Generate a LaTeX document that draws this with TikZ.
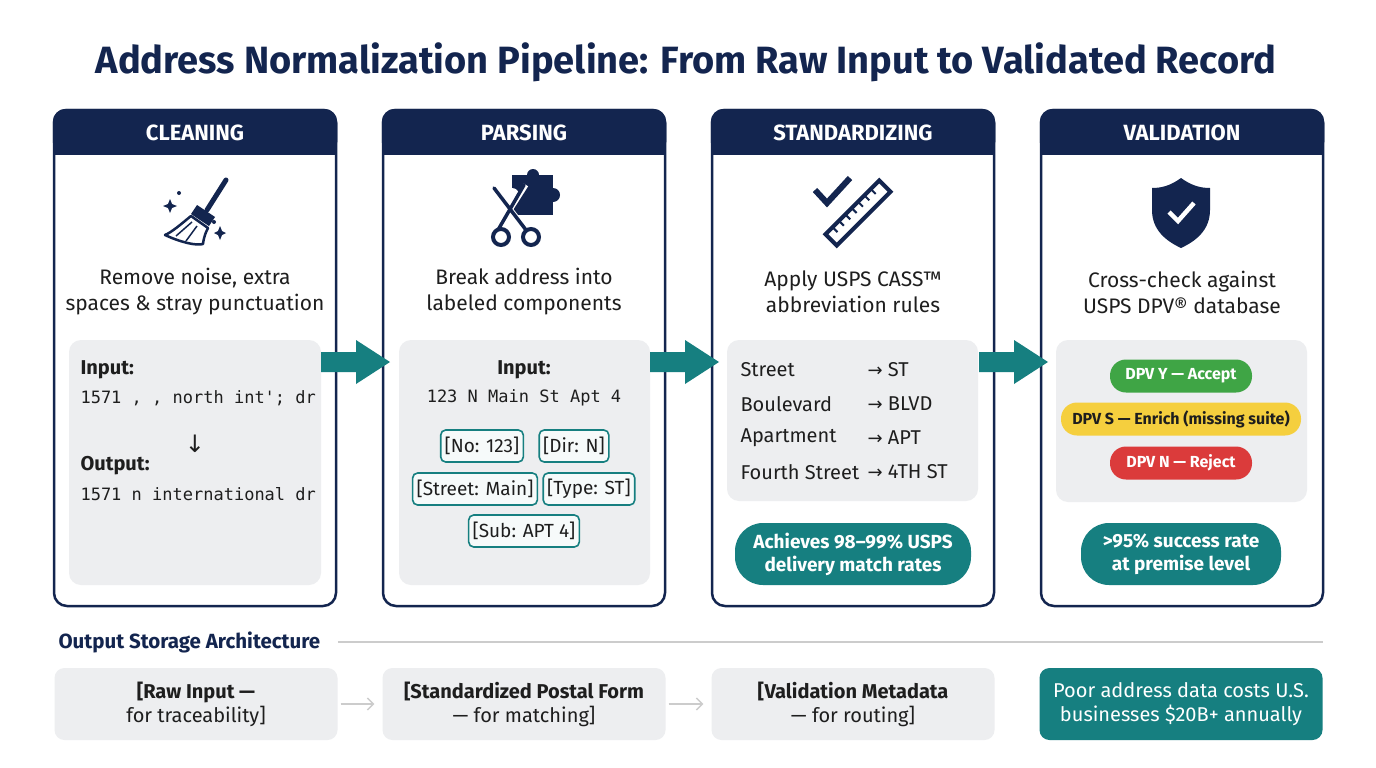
\documentclass[tikz,border=0pt]{standalone}
\usepackage{fontspec}
\setmainfont{Fira Sans}
\newfontfamily\monof{DejaVu Sans Mono}
\newfontfamily\symf{DejaVu Sans}
\usetikzlibrary{shapes.geometric,arrows.meta}
\definecolor{navy}{HTML}{13254F}
\definecolor{teal}{HTML}{167F80}
\definecolor{greyb}{HTML}{EDEEF0}
\definecolor{txt}{HTML}{1E1E1E}
\definecolor{okg}{HTML}{3FA545}
\definecolor{oky}{HTML}{F5CF3E}
\definecolor{okr}{HTML}{DB3B3B}
\tikzset{
 panel/.style={draw=navy,line width=2.5pt,rounded corners=13pt,fill=white},
 hdr/.style={text=white,font=\fontsize{22}{24}\selectfont\bfseries},
 desc/.style={text=txt,font=\fontsize{21}{26}\selectfont,align=center},
 gbox/.style={fill=greyb,rounded corners=12pt},
 mono/.style={text=txt,font=\monof\fontsize{17}{20}\selectfont},
 lbl/.style={text=txt,font=\fontsize{20}{22}\selectfont\bfseries},
 tag/.style={draw=teal,line width=1.6pt,rounded corners=5pt,fill=white!96!teal,text=txt,font=\fontsize{19}{20}\selectfont,minimum height=32pt,inner xsep=4pt},
 row/.style={text=txt,font=\fontsize{20}{22}\selectfont,anchor=west},
 tpill/.style={fill=teal,rounded corners=28pt,text=white,font=\fontsize{19}{23}\selectfont\bfseries,align=center,minimum height=62pt},
 spill/.style={rounded corners=16pt,font=\fontsize{16}{18}\selectfont\bfseries,minimum height=33pt},
 flow/.style={fill=teal},
 sbox/.style={fill=greyb,rounded corners=10pt,minimum width=283pt,minimum height=72pt,align=center,text=txt,font=\fontsize{20}{24}\selectfont},
 garrow/.style={draw=black!20,line width=1.3pt,-{Straight Barb[length=6pt,width=12pt]}},
}
\begin{document}
\begin{tikzpicture}[x=1pt,y=-1pt]
\useasboundingbox (0,0) rectangle (1376,768);
\fill[white] (0,0) rectangle (1376,768);
\node[text=navy,font=\fontsize{38}{40}\selectfont\bfseries] (title) at (686,62) {Address Normalization Pipeline: From Raw Input to Validated Record};

% panels
\foreach \x/\n/\h in {54/p1/CLEANING,383/p2/PARSING,712/p3/STANDARDIZING,1041/p4/VALIDATION}{
  \draw[panel] (\x,110) rectangle ++(282,496);
  \fill[navy,rounded corners=13pt] (\x-1.25,108.75) rectangle ++(284.5,46);
  \fill[navy] (\x-1.25,140) rectangle ++(284.5,15);
  \node[hdr] (\n h) at (\x+141,133) {\h};
}
% descriptions
\node[desc] (d1) at (195,292) {Remove noise, extra\\spaces \& stray punctuation};
\node[desc] (d2) at (524,292) {Break address into\\labeled components};
\node[desc] (d3) at (853,292) {Apply USPS CASS™\\abbreviation rules};
\node[desc] (d4) at (1182,292) {Cross-check against\\USPS DPV® database};

% grey boxes
\fill[gbox] (69,340) rectangle (321,585);
\fill[gbox] (399,340) rectangle (650,585);
\fill[gbox] (727,340) rectangle (978,501);
\fill[gbox] (1056,340) rectangle (1307,502);

% flow arrows
\foreach \a in {321,650,979}{
  \fill[flow] (\a,352) -- (\a+35,352) -- (\a+35,340) -- (\a+69,362) -- (\a+35,384) -- (\a+35,372) -- (\a,372) -- cycle;
}

% panel 1
\node[lbl,anchor=west] (in1) at (77,370) {Input:};
\node[mono,anchor=west] (in1v) at (77,398) {1571 , , north int'; dr};
\node[text=txt,font=\symf\fontsize{24}{24}\selectfont] (dn) at (195,444) {↓};
\node[lbl,anchor=west] (out1) at (77,466) {Output:};
\node[mono,anchor=west] (out1v) at (77,494) {1571 n international dr};

% panel 2
\node[lbl] (in2) at (524,370) {Input:};
\node[mono] (in2v) at (524,398) {123 N Main St Apt 4};
\node[tag] (t1) at (482,446) {[No: 123]};
\node[tag] (t2) at (574,446) {[Dir: N]};
\node[tag] (t3) at (475,489) {[Street: Main]};
\node[tag] (t4) at (589,489) {[Type: ST]};
\node[tag] (t5) at (524,531) {[Sub: APT 4]};

% panel 3
\foreach \y/\a/\b [count=\i] in {370/Street/ST,404/Boulevard/BLVD,438/Apartment/APT,472/Fourth Street/4TH ST}{
  \node[row] (r\i a) at (737,\y) {\a};
  \node[row] (r\i b) at (864,\y) {{\symf\fontsize{18}{20}\selectfont →} \b};
}
\node[tpill,minimum width=236pt] (s3) at (853,554) {Achieves 98–99\% USPS\\delivery match rates};

% panel 4
\node[spill,fill=okg,text=white,minimum width=142pt] (gy) at (1181,376) {DPV Y — Accept};
\node[spill,fill=oky,text=txt,minimum width=240pt] (gs) at (1181,419) {DPV S — Enrich (missing suite)};
\node[spill,fill=okr,text=white,minimum width=142pt] (gn) at (1181,463) {DPV N — Reject};
\node[tpill,minimum width=200pt] (s4) at (1181,554) {>95\% success rate\\at premise level};

% icons
% broom
\draw[navy,line width=5pt,line cap=round] (226,180) -- (207,210);
\fill[navy] (197,205) -- (215,217) -- (209,226) -- (191,214) -- cycle;
\draw[navy,line width=2.5pt,line join=round,fill=white] (191,216) .. controls (180,225) and (172,232) .. (165,235) .. controls (180,242) and (196,246) .. (203,244) .. controls (204,236) and (206,232) .. (208,228) -- cycle;
\draw[navy,line width=1.5pt] (176,236) -- (192,222) (186,241) -- (197,226);
\fill[navy] (170,199) -- (172,204) -- (177,206) -- (172,208) -- (170,213) -- (168,208) -- (163,206) -- (168,204) -- cycle;
\fill[navy] (220,226) -- (222,231) -- (226,233) -- (222,235) -- (220,240) -- (218,235) -- (214,233) -- (218,231) -- cycle;
\fill[navy] (179,193) circle (2pt) (214,222) circle (2pt);
% scissors + puzzle
\fill[navy] (512,175) rectangle (553,215);
\fill[navy] (553,195) circle (7pt);
\fill[navy] (533,175) circle (6pt);
\fill[white] (512,195) circle (7pt);
\draw[white,line width=5pt] (494,188) -- (528,232) (526,185) -- (496,232);
\draw[navy,line width=3.5pt,line cap=round] (494,188) -- (526,230) (524,185) -- (498,230);
\draw[navy,line width=4pt,fill=white] (501,237) circle (8pt) (531,237) circle (8pt);
% check + ruler
\begin{scope}[shift={(858,213)},rotate=45]
\draw[navy,line width=4pt,fill=white] (-38,-8) rectangle (38,8);
\foreach \t in {-28,-19,...,30}{\draw[navy,line width=2pt] (\t,-8) -- (\t,-1);}
\end{scope}
\draw[navy,line width=6pt] (815,190) -- (827,203) -- (850,178);
% shield
\fill[navy] (1181,178) .. controls (1192,186) and (1201,188) .. (1210,188) -- (1210,210) .. controls (1210,230) and (1196,241) .. (1181,248) .. controls (1166,241) and (1152,230) .. (1152,210) -- (1152,188) .. controls (1161,188) and (1170,186) .. (1181,178) -- cycle;
\draw[white,line width=4.5pt] (1169,212) -- (1178,221) -- (1194,203);

% bottom
\node[text=navy,font=\fontsize{20.5}{22}\selectfont\bfseries,anchor=west] (ost) at (55,642) {Output Storage Architecture};
\coordinate (le) at (1323,642);
\draw[black!20,line width=1.2pt] (ost.east) ++(14,0) -- (le);
\node[sbox] (b1) at (196,704) {\textbf{[Raw Input —}\\for traceability]};
\node[sbox] (b2) at (524,704) {\textbf{[Standardized Postal Form}\\— for matching]};
\node[sbox] (b3) at (853,704) {\textbf{[Validation Metadata}\\— for routing]};
\node[sbox,fill=teal,text=white] (b4) at (1181,704) {Poor address data costs U.S.\\businesses \$20B+ annually};
\draw[garrow] (b1.east) ++(3,0) -- ([xshift=-8pt]b2.west);
\draw[garrow] (b2.east) ++(3,0) -- ([xshift=-8pt]b3.west);
\end{tikzpicture}
\end{document}
